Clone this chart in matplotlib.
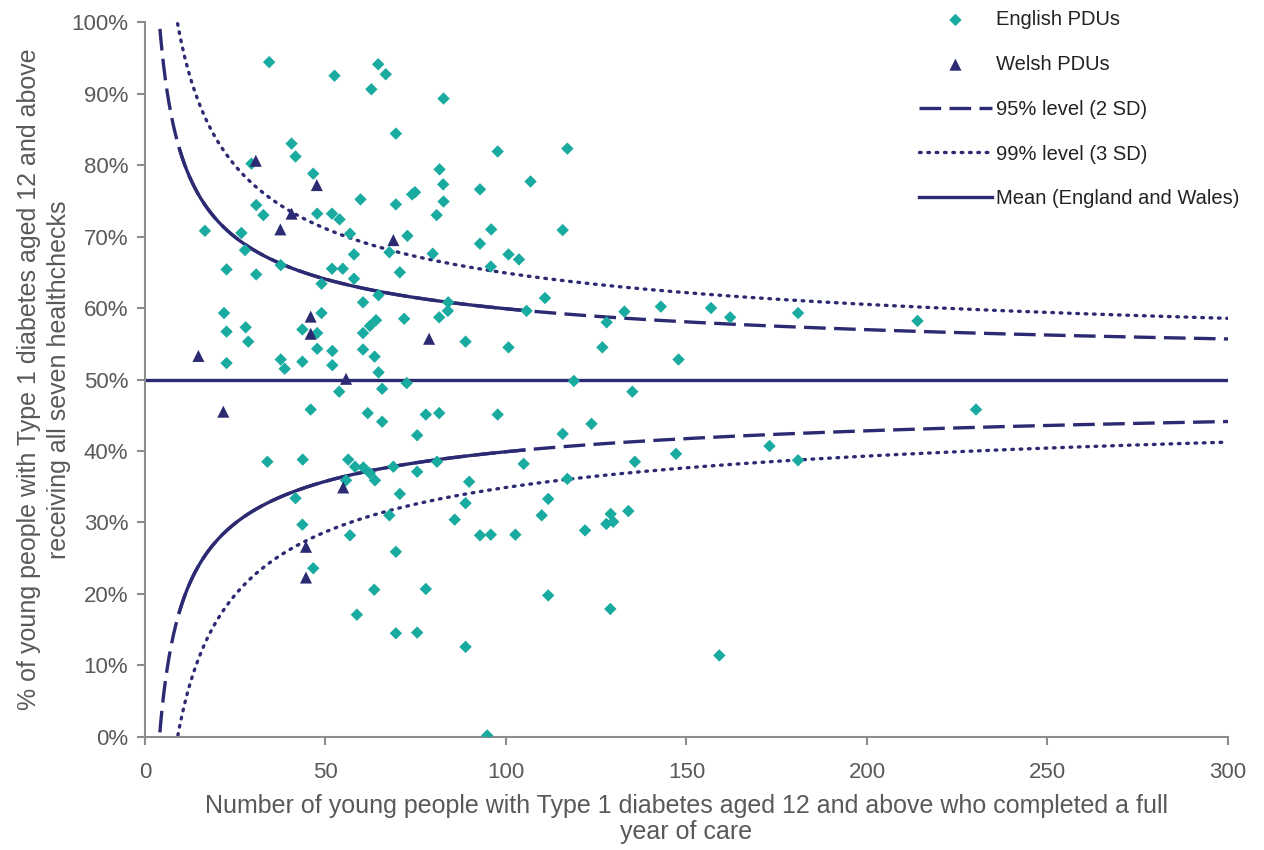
import numpy as np
import matplotlib.pyplot as plt
from matplotlib.ticker import PercentFormatter

# PDU results: number of young people (x) and % receiving all seven checks (y)
english_n = [34.4, 64.6, 66.7, 52.5, 62.7, 69.5, 40.6, 41.7, 29.5, 46.6,
             59.7, 69.5, 74.0, 74.8, 30.8, 32.8, 47.7, 51.8, 53.9, 16.6,
             26.7, 56.8, 72.7, 27.7, 57.9, 67.7, 82.7, 97.7, 117.0, 81.6,
             82.6, 106.8, 92.8, 82.7, 80.8, 95.9, 115.7, 92.8, 79.7, 100.7,
             103.6, 22.6, 30.8, 37.6, 51.8, 54.8, 70.6, 57.9, 48.9, 64.7,
             60.4, 71.8, 21.9, 48.9, 27.9, 22.6, 43.6, 47.7, 60.4, 62.3,
             64.0, 28.6, 47.7, 51.9, 60.4, 63.6, 22.6, 37.6, 43.6, 51.9,
             38.7, 64.7, 72.5, 65.7, 53.8, 45.9, 61.7, 65.7, 75.4, 33.9,
             43.7, 56.3, 58.2, 60.5, 68.8, 75.4, 62.3, 63.7, 55.7, 95.8,
             110.8, 84.0, 83.9, 81.5, 105.7, 132.8, 127.9, 88.8, 100.7, 126.7,
             118.8, 135.0, 77.8, 81.5, 97.7, 123.7, 115.7, 80.9, 104.9, 135.7,
             89.8, 117.0, 70.6, 41.7, 67.7, 43.6, 56.8, 69.5, 46.6, 63.5,
             58.7, 69.5, 75.4, 111.7, 88.8, 85.8, 109.9, 129.0, 127.8, 129.7,
             133.9, 121.9, 92.8, 95.8, 102.6, 77.8, 111.7, 128.9, 88.8, 94.8,
             142.9, 156.8, 162.1, 180.9, 214.0, 147.8, 230.2, 173.0, 147.1, 180.9,
             159.1]
english_pct = [94.4, 94.1, 92.7, 92.5, 90.6, 84.4, 83.0, 81.2, 80.2, 78.8,
               75.2, 74.5, 75.9, 76.2, 74.4, 73.0, 73.2, 73.2, 72.4, 70.8,
               70.5, 70.4, 70.1, 68.1, 67.5, 67.8, 89.3, 81.9, 82.3, 79.4,
               77.3, 77.7, 76.6, 74.9, 73.0, 71.0, 70.9, 69.0, 67.6, 67.5,
               66.8, 65.4, 64.7, 66.0, 65.5, 65.5, 65.0, 64.1, 63.4, 61.8,
               60.8, 58.5, 59.3, 59.3, 57.3, 56.7, 57.0, 56.5, 56.5, 57.5,
               58.3, 55.3, 54.3, 54.0, 54.2, 53.2, 52.3, 52.8, 52.5, 52.0,
               51.5, 51.0, 49.5, 48.7, 48.3, 45.8, 45.3, 44.1, 42.2, 38.5,
               38.8, 38.8, 37.8, 37.7, 37.8, 37.1, 36.9, 35.9, 35.9, 65.8,
               61.4, 60.8, 59.6, 58.7, 59.6, 59.5, 58.0, 55.3, 54.5, 54.5,
               49.8, 48.3, 45.1, 45.3, 45.1, 43.8, 42.4, 38.5, 38.2, 38.5,
               35.7, 36.1, 34.0, 33.4, 31.0, 29.7, 28.2, 25.9, 23.6, 20.6,
               17.1, 14.5, 14.6, 33.3, 32.7, 30.4, 31.0, 31.2, 29.8, 30.1,
               31.6, 28.9, 28.2, 28.3, 28.3, 20.7, 19.8, 17.9, 12.6, 0.2,
               60.2, 60.0, 58.7, 59.3, 58.2, 52.8, 45.8, 40.7, 39.6, 38.7,
               11.4]

welsh_n = [30.7, 47.6, 40.6, 37.5, 68.8, 45.9, 45.9, 14.8, 55.7, 21.7,
           54.9, 44.6, 44.6, 78.7]
welsh_pct = [80.6, 77.2, 73.2, 71.0, 69.5, 58.8, 56.4, 53.3, 50.1, 45.5,
             34.9, 26.6, 22.3, 55.7]

mean_pct = 49.9

teal = '#19aaa0'
navy = '#2b2a72'
grey = '#595959'

plt.rcParams['font.family'] = ['Liberation Sans', 'DejaVu Sans']

fig = plt.figure(figsize=(12.64, 8.5), dpi=100)
ax = fig.add_axes([0.1147, 0.133, 0.8568, 0.841])

# funnel limits around the national mean
p = mean_pct / 100
n = np.linspace(3.5, 300, 3000)
se = np.sqrt(p * (1 - p) / n)
lim95_hi = (p + 2 * se) * 100
lim95_lo = (p - 2 * se) * 100
lim99_hi = (p + 3 * se) * 100
lim99_lo = (p - 3 * se) * 100

dash = (0, (6.5, 2.5))
dots = (0, (0.5, 2.0))
ax.plot(n, lim95_hi, color=navy, lw=2.4, ls=dash, label='95% level (2 SD)')
ax.plot(n, lim95_lo, color=navy, lw=2.4, ls=dash)
# the 95% line is drawn solid where the units are packed together
dense = (n >= 9.5) & (n <= 105)
ax.plot(n[dense], lim95_hi[dense], color=navy, lw=2.4)
ax.plot(n[dense], lim95_lo[dense], color=navy, lw=2.4)
ax.plot(n, lim99_hi, color=navy, lw=2.4, ls=dots, dash_capstyle='round',
        label='99% level (3 SD)')
ax.plot(n, lim99_lo, color=navy, lw=2.4, ls=dots, dash_capstyle='round')
ax.axhline(mean_pct, color=navy, lw=2.4, label='Mean (England and Wales)')

ax.scatter(english_n, english_pct, marker='D', s=40, color=teal, edgecolors='none',
           zorder=3, label='English PDUs')
ax.scatter(welsh_n, welsh_pct, marker='^', s=75, color=navy, edgecolors='none',
           zorder=4, label='Welsh PDUs')

ax.set_xlim(0, 300)
ax.set_ylim(0, 100)
ax.set_xticks(range(0, 301, 50))
ax.set_yticks(range(0, 101, 10))
ax.yaxis.set_major_formatter(PercentFormatter(decimals=0))

for side in ['top', 'right']:
    ax.spines[side].set_visible(False)
for side in ['left', 'bottom']:
    ax.spines[side].set_color('#8c8c8c')
    ax.spines[side].set_linewidth(1.5)
ax.tick_params(colors='#8c8c8c', width=1.5, length=6, labelsize=16,
               labelcolor=grey)
ax.tick_params(axis='x', pad=12)
ax.tick_params(axis='y', pad=6)

ax.set_xlabel('Number of young people with Type 1 diabetes aged 12 and above who completed a full\n'
              'year of care', fontsize=18, color=grey, labelpad=8, linespacing=1.1)
ax.set_ylabel('% of young people with Type 1 diabetes aged 12 and above\n'
              'receiving all seven healthchecks', fontsize=18, color=grey, labelpad=0,
              linespacing=1.35)

handles, labels = ax.get_legend_handles_labels()
order = ['English PDUs', 'Welsh PDUs', '95% level (2 SD)', '99% level (3 SD)',
         'Mean (England and Wales)']
h = [handles[labels.index(o)] for o in order]
ax.legend(h, order, loc='upper right', bbox_to_anchor=(1.027, 1.042), frameon=False,
          fontsize=14.5, handlelength=3.6, handletextpad=0.2, labelspacing=1.28,
          labelcolor='#222222')

fig.savefig('out.png', dpi=100)
